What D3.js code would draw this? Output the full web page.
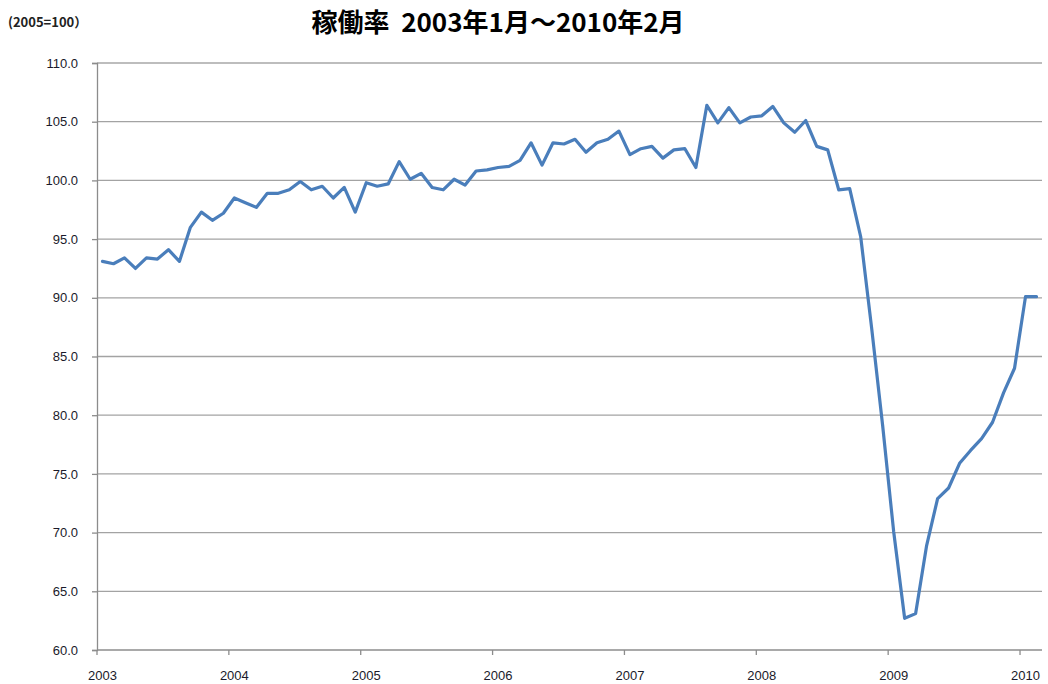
<!DOCTYPE html>
<html><head><meta charset="utf-8">
<script src="https://cdn.jsdelivr.net/npm/d3@7"></script>
<style>body{margin:0;background:#fff;} svg{display:block;} text{white-space:pre;}</style>
</head><body>
<svg id="c" width="1048" height="684"></svg>
<script>
const years = ["2003","2004","2005","2006","2007","2008","2009","2010"];
const months = [];
years.forEach(y => { for (let m = 1; m <= 12; m++) { if (y === "2010" && m > 2) break; months.push(y + "-" + String(m).padStart(2,"0")); } });
const values = [
  93.1, 92.9, 93.4, 92.5, 93.4, 93.3, 94.1, 93.1, 96.0, 97.3, 96.6, 97.2,
  98.5, 98.1, 97.7, 98.9, 98.9, 99.2, 99.9, 99.2, 99.5, 98.5, 99.4, 97.3,
  99.8, 99.5, 99.7, 101.6, 100.1, 100.6, 99.4, 99.2, 100.1, 99.6, 100.8, 100.9,
  101.1, 101.2, 101.7, 103.2, 101.3, 103.2, 103.1, 103.5, 102.4, 103.2, 103.5, 104.2,
  102.2, 102.7, 102.9, 101.9, 102.6, 102.7, 101.1, 106.4, 104.9, 106.2, 104.9, 105.4,
  105.5, 106.3, 104.9, 104.1, 105.1, 102.9, 102.6, 99.2, 99.3, 95.2,
  87.4, 79.1, 70.1, 62.7, 63.1, 68.9, 72.9, 73.8, 75.9, 77.0, 78.0, 79.4, 81.9, 84.0,
  90.1, 90.1
];
const yTicks = [60,65,70,75,80,85,90,95,100,105,110];
const title = "稼働率  2003年1月～2010年2月";
const unitLabel = "(2005=100）";

const svg = d3.select("#c");
const L = 97, R = 1042, T = 63, B = 650;
const x = d3.scaleBand().domain(months).range([L, R]).paddingInner(0).paddingOuter(0);
const y = d3.scaleLinear().domain([60, 110]).range([B, T]);
const bw = x.bandwidth();

// gridlines
svg.append("g").selectAll("line").data(yTicks.filter(v => v > 60)).join("line")
  .attr("x1", L).attr("x2", R)
  .attr("y1", d => y(d)).attr("y2", d => y(d))
  .attr("stroke", d => d === 110 ? "#bdbdbd" : "#a3a3a3")
  .attr("stroke-width", d => d === 110 ? 2 : 1.3);

// y axis
const yAxis = svg.append("g").attr("transform", `translate(${L},0)`)
  .call(d3.axisLeft(y).tickValues(yTicks).tickFormat(d3.format(".1f")).tickSize(5).tickPadding(14));
yAxis.select(".domain").attr("stroke", "#8c8c8c").attr("stroke-width", 1.3);
yAxis.selectAll(".tick line").attr("stroke", "#8c8c8c").attr("stroke-width", 1.3);
yAxis.selectAll("text").attr("font-family", "Liberation Sans, Arial, sans-serif").attr("font-size", 13).attr("fill", "#1a1a2a");

// x axis
const xa = svg.append("g");
xa.append("line").attr("x1", L).attr("x2", R).attr("y1", B).attr("y2", B)
  .attr("stroke", "#8c8c8c").attr("stroke-width", 1.3);
const jan = years.map(yr => yr + "-01");
xa.selectAll("line.t").data(jan).join("line").attr("class","t")
  .attr("x1", d => x(d)).attr("x2", d => x(d)).attr("y1", B).attr("y2", B + 5)
  .attr("stroke", "#8c8c8c").attr("stroke-width", 1.3);
xa.selectAll("text").data(jan).join("text")
  .attr("x", d => x(d) + bw / 2).attr("y", B + 30)
  .attr("text-anchor", "middle")
  .attr("font-family", "Liberation Sans, Arial, sans-serif").attr("font-size", 13).attr("fill", "#1a1a2a")
  .text(d => d.slice(0, 4));

// line
const line = d3.line().x((d, i) => x(months[i]) + bw / 2).y(d => y(d));
svg.append("path").datum(values).attr("d", line)
  .attr("fill", "none").attr("stroke", "#4a7ebb").attr("stroke-width", 3.2)
  .attr("stroke-linejoin", "round").attr("stroke-linecap", "round");

// titles
svg.append("text").attr("x", 498).attr("y", 32).attr("text-anchor", "middle")
  .attr("font-family", "Noto Sans CJK JP, sans-serif").attr("font-weight", "bold")
  .attr("font-size", 26).attr("fill", "#000").text(title);
svg.append("text").attr("x", 8).attr("y", 27)
  .attr("font-family", "Noto Sans CJK JP, sans-serif").attr("font-weight", "bold")
  .attr("font-size", 13).attr("fill", "#222").text(unitLabel);
</script>
</body></html>
